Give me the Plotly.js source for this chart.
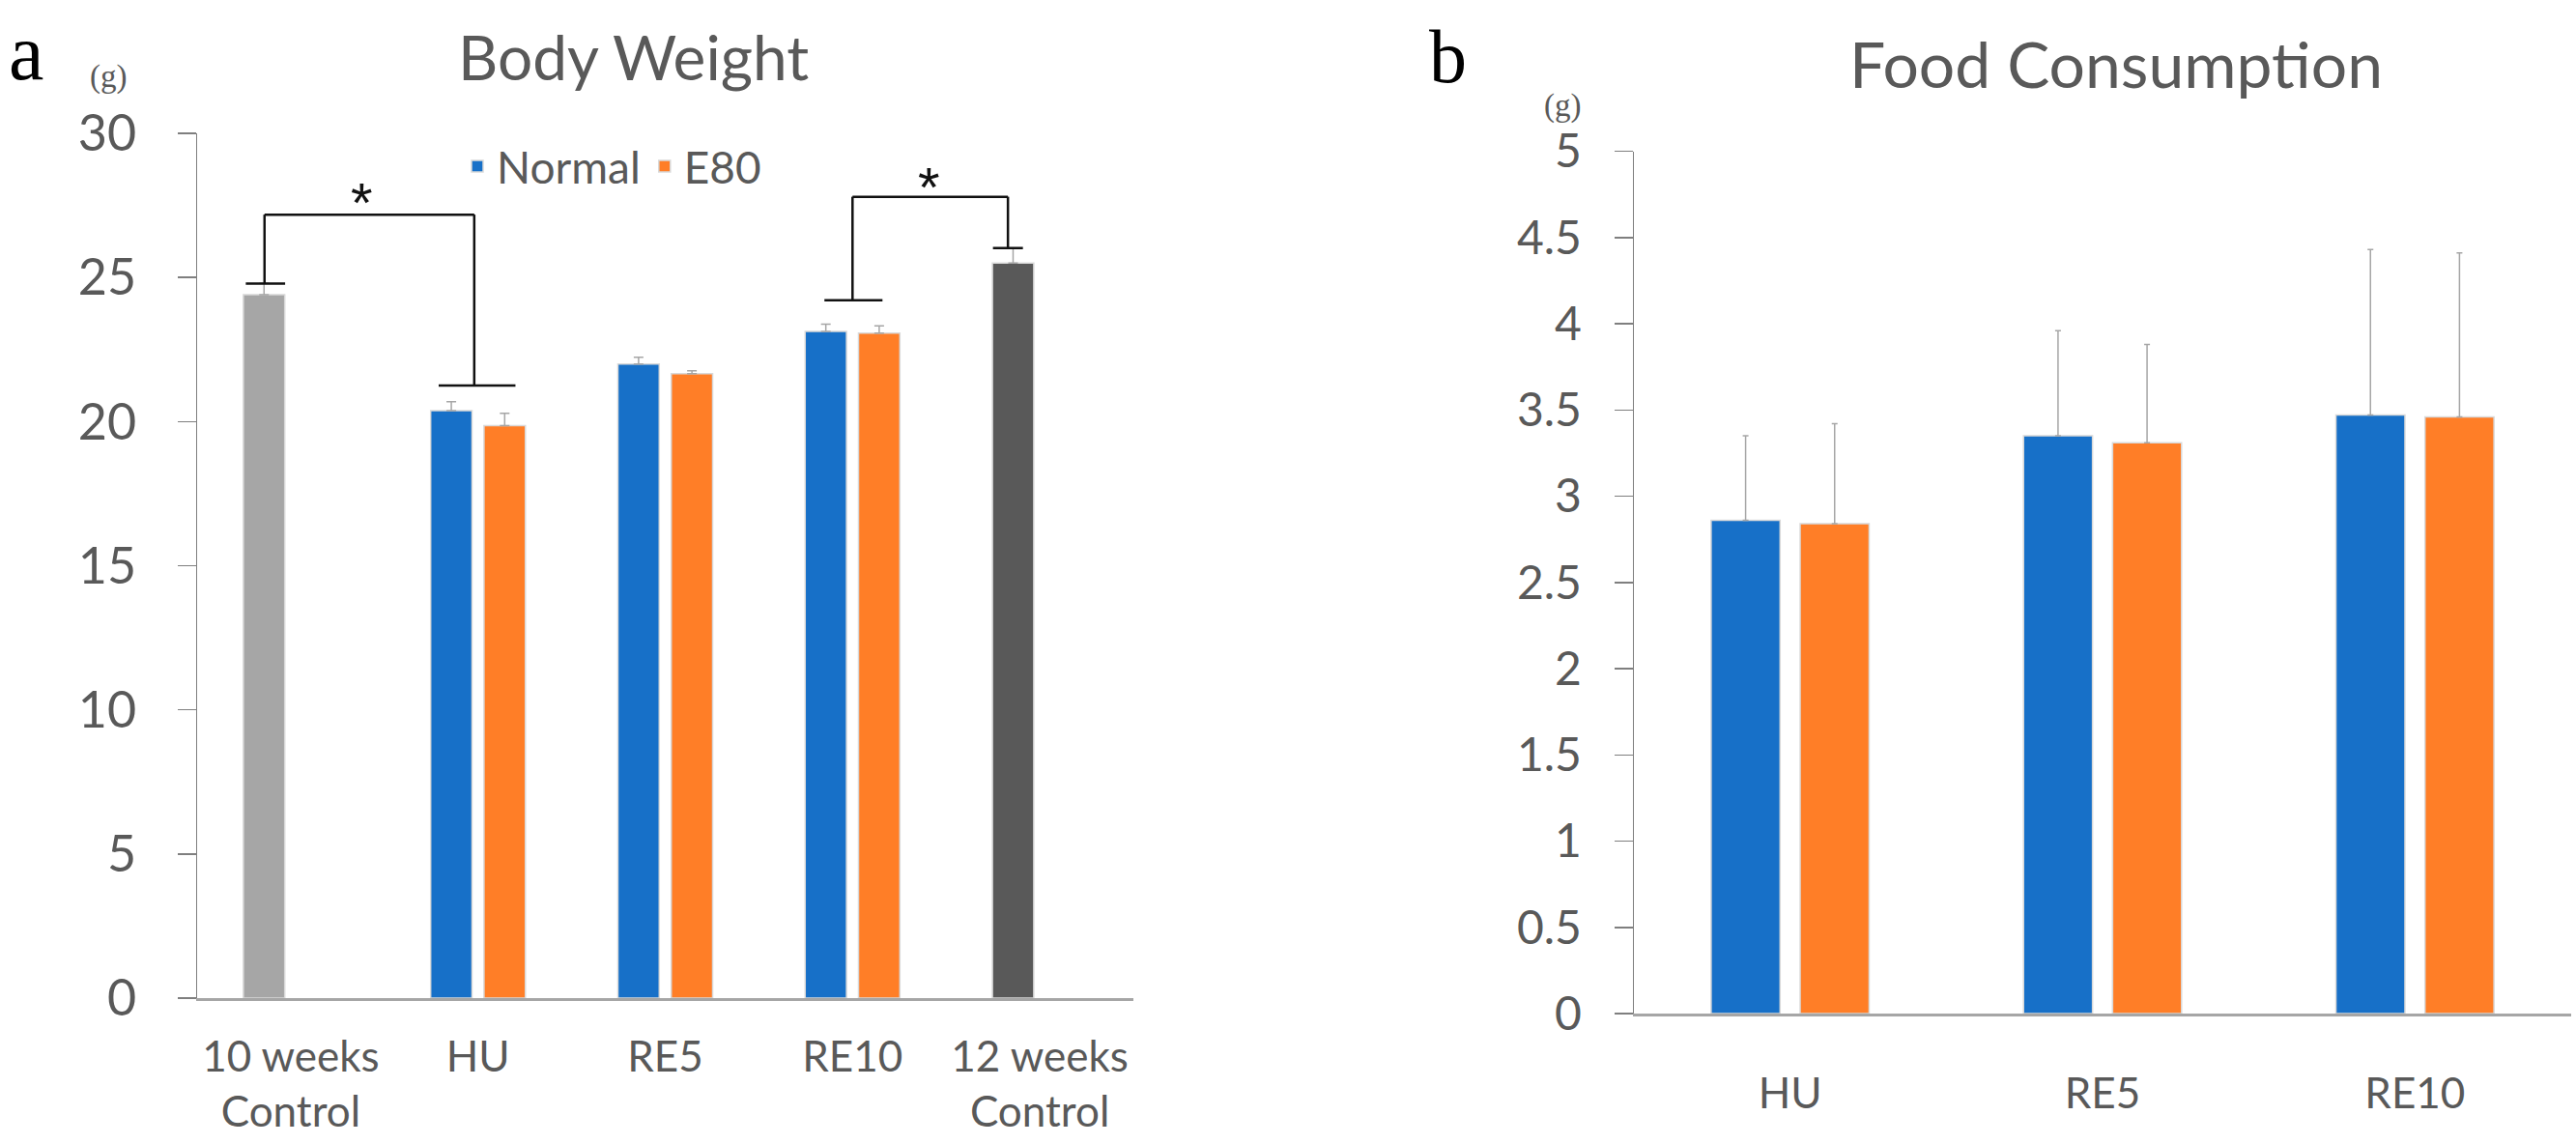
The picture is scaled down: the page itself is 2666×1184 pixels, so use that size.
<!DOCTYPE html>
<html>
<head>
<meta charset="utf-8">
<script src="https://cdn.plot.ly/plotly-3.0.1.min.js"></script>
<style>html,body{margin:0;padding:0;background:#fff;}#chart{width:2666px;height:1184px;}</style>
</head>
<body>
<div id="chart"></div>
<script>
// ---- data ----
const bwCategories = ['10 weeks<br>Control', 'HU', 'RE5', 'RE10', '12 weeks<br>Control'];
const treatCategories = ['HU', 'RE5', 'RE10'];
const controlCategories = ['10 weeks<br>Control', '12 weeks<br>Control'];

const bwNormal = [20.38, 22.00, 23.13];
const bwNormalErr = [0.31, 0.23, 0.25];
const bwE80 = [19.86, 21.66, 23.07];
const bwE80Err = [0.43, 0.10, 0.25];
const bwControl = [24.40, 25.50];
const bwControlErr = [0.40, 0.52];

const fcNormal = [2.86, 3.35, 3.47];
const fcNormalErr = [0.49, 0.61, 0.96];
const fcE80 = [2.84, 3.31, 3.46];
const fcE80Err = [0.58, 0.57, 0.95];

const bwTicks = [0, 5, 10, 15, 20, 25, 30];
const fcTicks = [0, 0.5, 1, 1.5, 2, 2.5, 3, 3.5, 4, 4.5, 5];

// significance brackets (category index positions, y in grams)
const sigLeftX = [-0.14, 3.00];
const sigLeftY = [24.79, 24.21];
const sigLeftCap = [[-0.24, -0.03], [2.85, 3.16]];
const sigRightX = [0.98, 3.83];
const sigRightY = [21.25, 26.02];
const sigRightCap = [[0.79, 1.20], [3.75, 3.91]];
const sigTopY = [27.18, 27.80];
const sigStarX = [0.38, 3.41];
const sigStarY = [27.95, 28.46];

// ---- styles ----
const BLUE = '#1770C8', ORANGE = '#FF7E27', LGRAY = '#A6A6A6', DGRAY = '#595959';
const TXT = '#595959';
const FONT = 'Lato, "Open Sans", sans-serif';
const edge = {color: '#d9d9d9', width: 1.5};
const errStyle = (arr, w) => ({type: 'data', symmetric: false, array: arr, arrayminus: arr.map(() => 0), visible: true,
  color: '#A6A6A6', thickness: 1.5, width: w});

const traces = [
  {type: 'bar', name: 'Normal', x: treatCategories, y: bwNormal, offsetgroup: 'n', xaxis: 'x', yaxis: 'y',
   marker: {color: BLUE, line: edge}, error_y: errStyle(bwNormalErr, 5), hoverinfo: 'y'},
  {type: 'bar', name: 'E80', x: treatCategories, y: bwE80, offsetgroup: 'e', xaxis: 'x', yaxis: 'y',
   marker: {color: ORANGE, line: edge}, error_y: errStyle(bwE80Err, 5), hoverinfo: 'y'},
  {type: 'bar', name: 'Control', x: controlCategories, y: bwControl, offsetgroup: 'n', xaxis: 'x', yaxis: 'y',
   marker: {color: [LGRAY, DGRAY], line: edge}, error_y: errStyle(bwControlErr, 5), showlegend: false, hoverinfo: 'y'},
  {type: 'bar', name: 'Normal', x: treatCategories, y: fcNormal, offsetgroup: 'n', xaxis: 'x2', yaxis: 'y2',
   marker: {color: BLUE, line: edge}, error_y: errStyle(fcNormalErr, 3), showlegend: false, hoverinfo: 'y'},
  {type: 'bar', name: 'E80', x: treatCategories, y: fcE80, offsetgroup: 'e', xaxis: 'x2', yaxis: 'y2',
   marker: {color: ORANGE, line: edge}, error_y: errStyle(fcE80Err, 3), showlegend: false, hoverinfo: 'y'}
];

const shapes = [];
const annotations = [];
const bl = {color: '#111111', width: 2.5};
for (let i = 0; i < sigLeftX.length; i++) {
  shapes.push({type: 'line', xref: 'x', yref: 'y', x0: sigLeftCap[i][0], x1: sigLeftCap[i][1], y0: sigLeftY[i], y1: sigLeftY[i], line: bl});
  shapes.push({type: 'line', xref: 'x', yref: 'y', x0: sigLeftX[i], x1: sigLeftX[i], y0: sigLeftY[i], y1: sigTopY[i], line: bl});
  shapes.push({type: 'line', xref: 'x', yref: 'y', x0: sigLeftX[i], x1: sigRightX[i], y0: sigTopY[i], y1: sigTopY[i], line: bl});
  shapes.push({type: 'line', xref: 'x', yref: 'y', x0: sigRightX[i], x1: sigRightX[i], y0: sigTopY[i], y1: sigRightY[i], line: bl});
  shapes.push({type: 'line', xref: 'x', yref: 'y', x0: sigRightCap[i][0], x1: sigRightCap[i][1], y0: sigRightY[i], y1: sigRightY[i], line: bl});
  annotations.push({xref: 'x', yref: 'y', x: sigStarX[i], y: sigStarY[i], text: '*', showarrow: false,
    font: {family: '"Liberation Sans", sans-serif', size: 58, color: '#111111'}, yanchor: 'middle', xanchor: 'center', yshift: -10});
}

const W = 2666, H = 1184;
const px = v => v / W, py = v => 1 - v / H;
annotations.push(
  {xref: 'paper', yref: 'paper', x: px(655), y: py(58), text: 'Body Weight', showarrow: false, xanchor: 'center', yanchor: 'middle',
   font: {family: FONT, size: 64, color: TXT}},
  {xref: 'paper', yref: 'paper', x: px(2190), y: py(66), text: 'Food Consumption', showarrow: false, xanchor: 'center', yanchor: 'middle',
   font: {family: FONT, size: 66, color: TXT}},
  {xref: 'paper', yref: 'paper', x: px(27), y: py(54), text: 'a', showarrow: false, xanchor: 'center', yanchor: 'middle',
   font: {family: '"Liberation Serif", serif', size: 82, color: '#000'}},
  {xref: 'paper', yref: 'paper', x: px(1498), y: py(58), text: 'b', showarrow: false, xanchor: 'center', yanchor: 'middle',
   font: {family: '"Liberation Serif", serif', size: 78, color: '#000'}},
  {xref: 'paper', yref: 'paper', x: px(112), y: py(80), text: '(g)', showarrow: false, xanchor: 'center', yanchor: 'middle',
   font: {family: '"Liberation Serif", serif', size: 33, color: TXT}},
  {xref: 'paper', yref: 'paper', x: px(1617), y: py(110), text: '(g)', showarrow: false, xanchor: 'center', yanchor: 'middle',
   font: {family: '"Liberation Serif", serif', size: 33, color: TXT}}
);

const yCommon = {showgrid: false, zeroline: false, showline: true, linecolor: '#7F7F7F', linewidth: 1.5,
  ticks: 'outside', ticklen: 19, tickwidth: 1.5, tickcolor: '#7F7F7F', tickmode: 'array'};
const xCommon = {type: 'category', showgrid: false, zeroline: false, showline: true, linecolor: '#A6A6A6', linewidth: 3,
  ticks: '', tickangle: 0};

const layout = {
  width: W, height: H, autosize: false,
  margin: {l: 0, r: 0, t: 0, b: 0, pad: 0},
  paper_bgcolor: '#ffffff', plot_bgcolor: '#ffffff',
  barmode: 'group', bargap: 0.43, bargroupgap: 0.225,
  font: {family: FONT, color: TXT},
  showlegend: true,
  legend: {orientation: 'h', x: px(474), xanchor: 'left', y: py(172), yanchor: 'middle',
    font: {family: FONT, size: 46, color: TXT}, bgcolor: 'rgba(0,0,0,0)', itemwidth: 30, tracegroupgap: 0},
  xaxis: Object.assign({}, xCommon, {domain: [px(204), px(1173)], anchor: 'y', range: [-0.5, 4.5],
    categoryorder: 'array', categoryarray: bwCategories, tickfont: {family: FONT, size: 44, color: TXT}, ticklabelstandoff: 20}),
  yaxis: Object.assign({}, yCommon, {domain: [1 - 1033 / H, 1 - 138 / H], anchor: 'x', range: [0, 30],
    tickvals: bwTicks, ticktext: bwTicks.map(String), tickfont: {family: FONT, size: 52, color: TXT}, ticklabelstandoff: 32}),
  xaxis2: Object.assign({}, xCommon, {domain: [px(1691), px(2661)], anchor: 'y2', range: [-0.5, 2.5],
    categoryorder: 'array', categoryarray: treatCategories, tickfont: {family: FONT, size: 44, color: TXT}, ticklabelstandoff: 42}),
  yaxis2: Object.assign({}, yCommon, {domain: [1 - 1049 / H, 1 - 156.5 / H], anchor: 'x2', range: [0, 5],
    tickvals: fcTicks, ticktext: fcTicks.map(String), tickfont: {family: FONT, size: 48, color: TXT}, ticklabelstandoff: 24}),
  shapes: shapes,
  annotations: annotations
};

Plotly.newPlot('chart', traces, layout, {displayModeBar: false, staticPlot: true});
</script>
</body>
</html>
